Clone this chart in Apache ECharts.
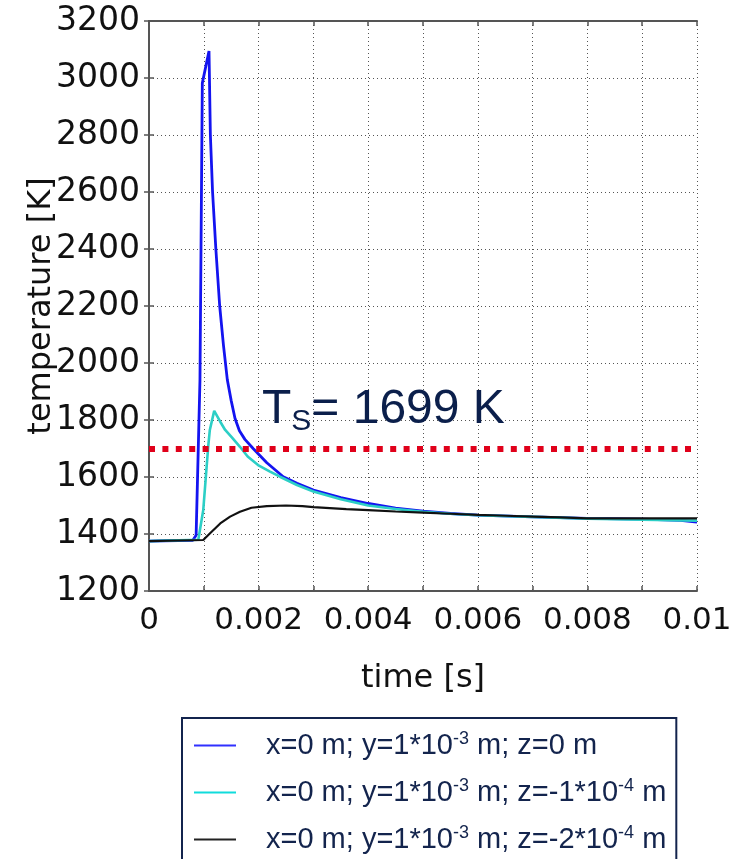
<!DOCTYPE html>
<html>
<head>
<meta charset="utf-8">
<script src="https://cdn.jsdelivr.net/npm/echarts@6/dist/echarts.min.js"></script>
<style>
  html, body { margin: 0; padding: 0; background: #fff; }
  #chart { width: 740px; height: 859px; }
</style>
</head>
<body>
<div id="chart"></div>
<script>
// x tick labels (every second minor tick) and y range
const xTickLabels = ['0', '0.002', '0.004', '0.006', '0.008', '0.01']
const yTickLabels = ['1200', '1400', '1600', '1800', '2000', '2200', '2400', '2600', '2800', '3000', '3200']

const seriesNames = [
  'x=0 m; y=1*10^-3 m; z=0 m',
  'x=0 m; y=1*10^-3 m; z=-1*10^-4 m',
  'x=0 m; y=1*10^-3 m; z=-2*10^-4 m'
]

// z = 0 m
const blueTime = [0, 0.0008, 0.00086, 0.00093, 0.000973, 0.001095, 0.00112, 0.00116, 0.00122, 0.00129, 0.00136, 0.00143, 0.0015, 0.00157, 0.00165, 0.00175, 0.0019, 0.00215, 0.00245, 0.0027, 0.003, 0.0035, 0.004, 0.0045, 0.005, 0.0055, 0.006, 0.007, 0.008, 0.009, 0.0097, 0.01]
const blueTemp = [1375, 1378, 1396, 1940, 2982, 3095, 2800, 2600, 2400, 2200, 2060, 1940, 1868, 1805, 1762, 1732, 1700, 1650, 1601, 1578, 1554, 1528, 1507, 1491, 1480, 1472, 1466, 1460, 1455, 1452, 1448, 1442]

// z = -1e-4 m
const cyanTime = [0, 0.0009, 0.00099, 0.00108, 0.00111, 0.00119, 0.0013, 0.00139, 0.00152, 0.00166, 0.0018, 0.00199, 0.0022, 0.00239, 0.0027, 0.003, 0.0035, 0.004, 0.0045, 0.005, 0.0055, 0.006, 0.007, 0.008, 0.009, 0.01]
const cyanTemp = [1375, 1380, 1484, 1706, 1765, 1832, 1794, 1765, 1737, 1706, 1672, 1642, 1620, 1601, 1572, 1549, 1522, 1500, 1488, 1478, 1471, 1466, 1460, 1454, 1450, 1447]

// z = -2e-4 m
const blackTime = [0, 0.00099, 0.00111, 0.0013, 0.00148, 0.00166, 0.00187, 0.00215, 0.0025, 0.0028, 0.003, 0.0036, 0.004, 0.0045, 0.005, 0.0055, 0.006, 0.0065, 0.007, 0.0075, 0.008, 0.009, 0.01]
const blackTemp = [1375, 1379, 1402, 1437, 1461, 1478, 1492, 1498, 1500, 1498, 1494, 1487, 1484, 1479, 1475, 1471, 1467, 1464, 1461, 1458, 1455, 1455, 1455]

const solidusTemp = 1699

const pairs = (t, v) => t.map((x, i) => [x, v[i]])

const navy = '#13244d'
const axisColor = '#555'
const gridLine = { show: true, lineStyle: { color: '#555', type: [1, 3], width: 1 } }

// turn "10^-3" into a superscript for rich text
const legendText = function (name) {
  const parts = name.split(/\^(-?\d+)/)
  let out = ''
  parts.forEach((p, i) => {
    if (p === '') return
    out += i % 2 === 1 ? '{s|' + p + '}' : '{t|' + p + '}'
  })
  return out
}

const chart = echarts.init(document.getElementById('chart'))
const option = {
  animation: false,
  backgroundColor: '#fff',
  grid: { left: 149, right: 43, top: 21, bottom: 268 },
  xAxis: [
    {
      type: 'value', min: 0, max: 0.01, interval: 0.001,
      name: 'time [s]', nameLocation: 'middle', nameGap: 72, nameMoveOverlap: false,
      nameTextStyle: { fontFamily: 'DejaVu Sans', fontSize: 32, color: '#111' },
      axisLine: { show: true, lineStyle: { color: axisColor, width: 2 } },
      axisTick: { show: true, inside: true, length: 5, lineStyle: { color: axisColor, width: 1.5 } },
      axisLabel: {
        margin: 14, fontFamily: 'DejaVu Sans', fontSize: 31, color: '#111',
        formatter: (v, i) => (i % 2 === 0 ? xTickLabels[i / 2] : '')
      },
      splitLine: gridLine
    },
    {
      type: 'value', min: 0, max: 0.01, interval: 0.001, position: 'top',
      axisLine: { show: true, lineStyle: { color: axisColor, width: 2 } },
      axisTick: { show: true, inside: true, length: 5, lineStyle: { color: axisColor, width: 1.5 } },
      axisLabel: { show: false },
      splitLine: { show: false }
    }
  ],
  yAxis: [
    {
      type: 'value', min: 1200, max: 3200, interval: 200,
      name: 'temperature [K]', nameLocation: 'middle', nameGap: 91, nameMoveOverlap: false,
      nameTextStyle: { fontFamily: 'DejaVu Sans', fontSize: 32, color: '#111' },
      axisLine: { show: true, lineStyle: { color: axisColor, width: 2 } },
      axisTick: { show: true, inside: true, length: 5, lineStyle: { color: axisColor, width: 1.5 } },
      axisLabel: {
        margin: 9, fontFamily: 'DejaVu Sans', fontSize: 33, color: '#111',
        formatter: (v, i) => yTickLabels[i]
      },
      splitLine: gridLine
    },
    {
      type: 'value', min: 1200, max: 3200, interval: 200, position: 'right',
      axisLine: { show: true, lineStyle: { color: axisColor, width: 2 } },
      axisTick: { show: true, inside: true, length: 5, lineStyle: { color: axisColor, width: 1.5 } },
      axisLabel: { show: false },
      splitLine: { show: false }
    }
  ],
  legend: {
    orient: 'vertical', left: 182, top: 718, height: 300,
    padding: [12, 10, 20, 12],
    itemGap: 17,
    itemWidth: 42, itemHeight: 2, icon: 'rect',
    borderColor: navy, borderWidth: 2,
    data: [
      { name: seriesNames[0], itemStyle: { color: '#3030ff' } },
      { name: seriesNames[1], itemStyle: { color: '#10dcdc' } },
      { name: seriesNames[2], itemStyle: { color: '#222' } }
    ],
    formatter: legendText,
    textStyle: {
      padding: [0, 0, 0, 25],
      rich: {
        t: { fontFamily: 'Liberation Sans', fontSize: 29, lineHeight: 31, color: navy },
        s: { fontFamily: 'Liberation Sans', fontSize: 18, lineHeight: 16, color: navy, verticalAlign: 'top' }
      }
    }
  },
  graphic: [
    {
      type: 'text', left: 262, top: 386, z: 100,
      style: {
        text: '{a|T}{b|S}{a|= 1699 K}',
        rich: {
          a: { fontFamily: 'Liberation Sans', fontSize: 48, lineHeight: 54, fill: '#0b1f4b', color: '#0b1f4b' },
          b: { fontFamily: 'Liberation Sans', fontSize: 30, lineHeight: 14, fill: '#0b1f4b', color: '#0b1f4b', verticalAlign: 'bottom' }
        }
      }
    }
  ],
  series: [
    {
      name: seriesNames[0], type: 'line', data: pairs(blueTime, blueTemp),
      showSymbol: false, z: 3,
      lineStyle: { color: '#1414f0', width: 2.8 }, itemStyle: { color: '#1414f0' },
      markLine: {
        silent: true, symbol: 'none', z: 10,
        label: { show: false },
        lineStyle: { color: '#e0001a', width: 6, type: [6, 7.4] },
        data: [{ yAxis: solidusTemp }]
      }
    },
    {
      name: seriesNames[1], type: 'line', data: pairs(cyanTime, cyanTemp),
      showSymbol: false, z: 4,
      lineStyle: { color: '#2ccfc6', width: 2.6 }, itemStyle: { color: '#2ccfc6' }
    },
    {
      name: seriesNames[2], type: 'line', data: pairs(blackTime, blackTemp),
      showSymbol: false, z: 5,
      lineStyle: { color: '#111', width: 2.2 }, itemStyle: { color: '#111' }
    }
  ]
}
chart.setOption(option)
</script>
</body>
</html>
